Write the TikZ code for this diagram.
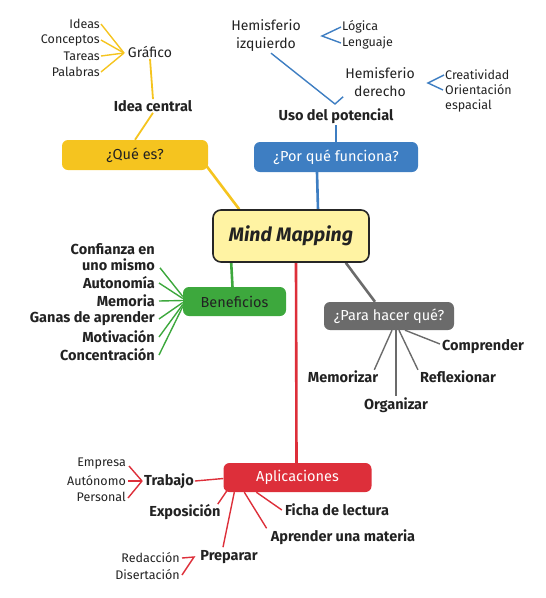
\documentclass[tikz,border=0pt]{standalone}
\usepackage{fontspec}
\setmainfont{Fira Sans}
\usetikzlibrary{backgrounds,calc}
\definecolor{cyel}{HTML}{F5C41F}
\definecolor{cblue}{HTML}{3E7EC2}
\definecolor{cgreen}{HTML}{3DA83D}
\definecolor{cgray}{HTML}{6B6B6B}
\definecolor{cred}{HTML}{DD2F3A}
\definecolor{cpale}{HTML}{FFF3A3}
\definecolor{ctext}{HTML}{222222}
\begin{document}
\begin{tikzpicture}[x=1pt,y=-1pt,
  boxnode/.style={rounded corners=6pt, inner sep=0pt, font=\fontsize{14.5}{16}\selectfont},
  sm/.style={inner sep=1pt, text=ctext, font=\fontsize{12.5}{15}\selectfont},
  md/.style={inner sep=1pt, text=ctext, font=\fontsize{14}{18}\selectfont},
  bd/.style={inner sep=1pt, text=ctext, font=\bfseries\fontsize{14.5}{16}\selectfont},
  mainline/.style={line width=2.6pt},
  subline/.style={line width=1.4pt}]
\useasboundingbox (0,0) rectangle (546,598);
% central
\node[draw=black!85, line width=1.6pt, fill=cpale, rounded corners=8pt, minimum width=156pt, minimum height=52pt, font=\bfseries\itshape\fontsize{19.5}{22}\selectfont, text=ctext] (mm) at (291,236) {Mind Mapping};
% main boxes
\node[boxnode, fill=cyel, minimum width=146pt, minimum height=30pt, text=ctext] (que) at (135,155) {¿Qué es?};
\node[boxnode, fill=cblue, minimum width=164pt, minimum height=30pt, text=white] (por) at (336,157) {¿Por qué funciona?};
\node[boxnode, fill=cgreen, minimum width=103pt, minimum height=29pt, text=ctext] (ben) at (234.5,301.5) {Beneficios};
\node[boxnode, fill=cgray, minimum width=130pt, minimum height=28pt, text=white] (par) at (389,316) {¿Para hacer qué?};
\node[boxnode, fill=cred, minimum width=148pt, minimum height=29pt, text=white] (apl) at (297.5,477.5) {Aplicaciones};
% Que es branch
\node[bd] (idc) at (153,106) {Idea central};
\node[md] (gra) at (150,52) {Gráfico};
\node[sm, anchor=east] (ideas) at (101,24) {Ideas};
\node[sm, anchor=east] (conc) at (101,40) {Conceptos};
\node[sm, anchor=east] (tar) at (101,56) {Tareas};
\node[sm, anchor=east] (pal) at (101,72) {Palabras};
\coordinate (gcv) at (124,53);
% Por que branch
\node[bd] (uso) at (336,116) {Uso del potencial};
\node[md, align=center] (hiz) at (266,36) {Hemisferio\\izquierdo};
\node[md, align=center] (hde) at (380,82) {Hemisferio\\derecho};
\node[sm, anchor=west] (log) at (341,27) {Lógica};
\node[sm, anchor=west] (len) at (341,43) {Lenguaje};
\node[sm, anchor=west] (cre) at (444,75) {Creatividad};
\node[sm, anchor=west, align=left] (ori) at (444,98.5) {Orientación\\espacial};
\coordinate (lcv) at (322,36);
\coordinate (ccv) at (428,83);
\coordinate (cend) at (443,90);
\coordinate (uv) at (335,104);
\coordinate (q1) at (205,164);
% Beneficios branch
\node[bd, anchor=east, align=right] (conf) at (156,257) {Confianza en\\uno mismo};
\node[bd, anchor=east] (aut) at (156,283) {Autonomía};
\node[bd, anchor=east] (mem) at (156,301) {Memoria};
\node[bd, anchor=east] (gan) at (156,319) {Ganas de aprender};
\node[bd, anchor=east] (mot) at (156,337) {Motivación};
\node[bd, anchor=east] (con) at (156,355) {Concentración};
% Para hacer branch
\node[bd] (com) at (483,347) {Comprender};
\node[bd] (mez) at (343,377) {Memorizar};
\node[bd] (ref) at (458,377) {Reflexionar};
\node[bd] (org) at (396,405) {Organizar};
% Aplicaciones branch
\node[bd] (tra) at (169,481) {Trabajo};
\node[sm, anchor=east] (emp) at (127,464) {Empresa};
\node[sm, anchor=east] (aun) at (127,481) {Autónomo};
\node[sm, anchor=east] (per) at (127,497) {Personal};
\coordinate (tcv) at (142,481);
\node[bd] (exp) at (185,512) {Exposición};
\node[bd] (fic) at (337,510) {Ficha de lectura};
\node[bd] (apr) at (343,537) {Aprender una materia};
\node[bd] (pre) at (229,557) {Preparar};
\node[sm, anchor=east] (red) at (181,558) {Redacción};
\node[sm, anchor=east] (dis) at (181,575) {Disertación};
\coordinate (rcv) at (194,557);
\begin{scope}[on background layer]
% yellow
\draw[cyel, mainline] (q1) -- ($(mm.north west)+(27,0)$);
\draw[cyel, line width=1.8pt] (que.north) -- (idc.south);
\draw[cyel, line width=1.8pt] (idc.north) -- (gra.south);
\draw[cyel, subline] (ideas.east) -- (gcv);
\draw[cyel, subline] (conc.east) -- (gcv);
\draw[cyel, subline] (tar.east) -- (gcv);
\draw[cyel, subline] (pal.east) -- (gcv);
% blue
\draw[cblue, mainline] ($(por.south)+(-19,0)$) -- ($(mm.north)+(27,0)$);
\draw[cblue, line width=1.8pt] (por.north) -- (uso.south);
\draw[cblue, subline] ($(hiz.south)+(5,0)$) -- (uv) -- ($(hde.south west)+(-1,-1)$);
\draw[cblue, subline] (log.west) -- (lcv) -- (len.west);
\draw[cblue, subline] (cre.west) -- (ccv) -- (cend);
% green
\draw[cgreen, mainline] ($(ben.north)+(-2,0)$) -- ($(mm.south west)+(19,0)$);
\draw[cgreen, subline] ($(conf.south east)+(4,-4)$) -- ($(ben.west)+(0,-5)$);
\draw[cgreen, subline] ($(aut.east)+(3,0)$) -- ($(ben.west)+(0,-3)$);
\draw[cgreen, subline] ($(mem.east)+(3,0)$) -- ($(ben.west)+(0,-1)$);
\draw[cgreen, subline] ($(gan.east)+(3,0)$) -- ($(ben.west)+(0,1)$);
\draw[cgreen, subline] ($(mot.east)+(3,0)$) -- ($(ben.west)+(0,3)$);
\draw[cgreen, subline] ($(con.east)+(3,0)$) -- ($(ben.west)+(0,5)$);
% red
\draw[cred, mainline] ($(mm.south)+(5,0)$) -- ($(apl.north)+(-1,0)$);
\draw[cred, subline] (tra.east) -- ($(apl.west)+(0,1)$);
\draw[cred, subline] ($(emp.east)+(2,2)$) -- (tcv);
\draw[cred, subline] ($(aun.east)+(1,0)$) -- (tcv);
\draw[cred, subline] ($(per.east)+(1,1)$) -- (tcv);
\draw[cred, subline] ($(exp.north east)+(-4,1)$) -- ($(apl.south west)+(4,-2)$);
\draw[cred, subline] ($(pre.north)+(-6,-2)$) -- ($(apl.south west)+(11,0)$);
\draw[cred, subline] ($(apr.north west)+(-3,0)$) -- ($(apl.south west)+(21,0)$);
\draw[cred, subline] ($(fic.west)+(-2,0)$) -- ($(apl.south west)+(33,0)$);
\draw[cred, subline] ($(red.east)+(1,0)$) -- (rcv) -- ($(dis.east)+(1,0)$);
% gray
\draw[cgray, mainline] ($(mm.south east)+(-24,0)$) -- ($(par.north)+(-14,0)$);
\draw[cgray, subline] ($(par.south)+(16,0)$) -- ($(com.west)+(-1,-3)$);
\draw[cgray, subline] ($(par.south)+(3,0)$) -- ($(mez.north east)+(-5,0)$);
\draw[cgray, subline] ($(par.south)+(7,0)$) -- (org.north);
\draw[cgray, subline] ($(par.south)+(10,0)$) -- ($(ref.north west)+(-1,0)$);
\end{scope}
\end{tikzpicture}
\end{document}
